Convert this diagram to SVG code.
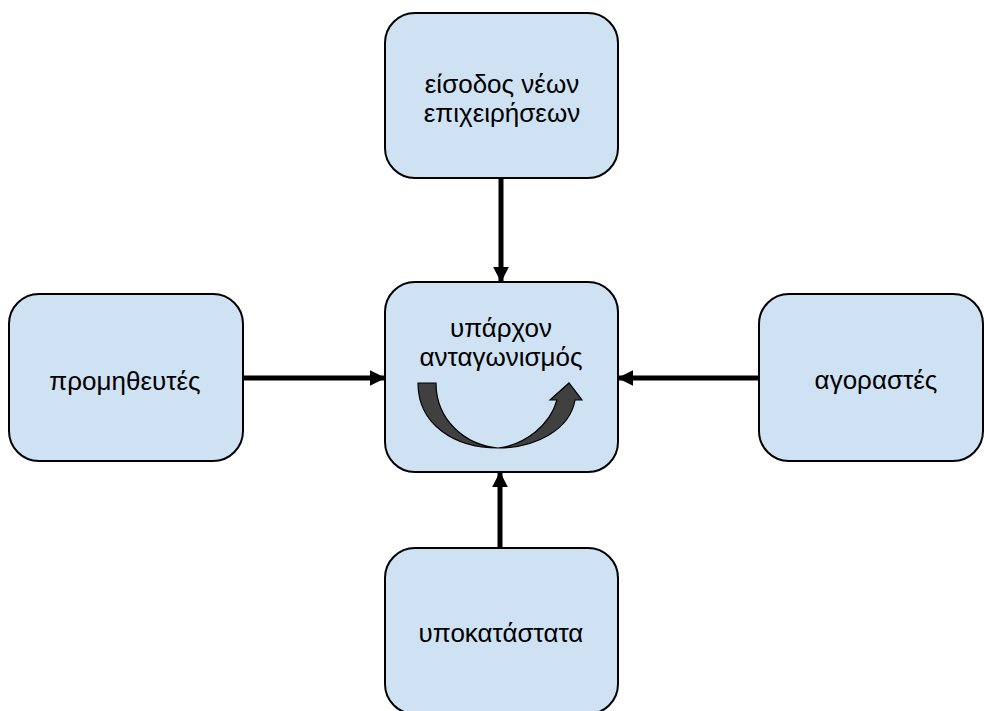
<svg xmlns="http://www.w3.org/2000/svg" width="984" height="711" viewBox="0 0 984 711">
<defs>
<style>
.box{fill:#cfe2f3;stroke:#000;stroke-width:2}
.t{font-family:"Liberation Sans",Arial,sans-serif;font-size:26px;fill:#000;text-anchor:middle}
.c{stroke:#000;stroke-width:5;fill:none}
</style>
<marker id="ah" viewBox="0 0 10 10" refX="9" refY="5" markerWidth="3.2" markerHeight="3.2" orient="auto" markerUnits="strokeWidth">
<path d="M0,0 L10,5 L0,10 Z" fill="#000"/>
</marker>
</defs>
<rect width="984" height="711" fill="#fff"/>
<g id="connectors">
<line class="c" x1="501" y1="178" x2="501" y2="281" marker-end="url(#ah)"/>
<line class="c" x1="243" y1="378" x2="384" y2="378" marker-end="url(#ah)"/>
<line class="c" x1="759" y1="378" x2="619" y2="378" marker-end="url(#ah)"/>
<line class="c" x1="500" y1="557" x2="500" y2="473" marker-end="url(#ah)"/>
</g>
<g id="node-top">
<rect class="box" x="385" y="13" width="233" height="165" rx="30"/>
<text class="t" x="502" y="93">είσοδος νέων</text>
<text class="t" x="502" y="122">επιχειρήσεων</text>
</g>
<g id="node-center">
<rect class="box" x="385" y="282" width="233" height="190" rx="30"/>
<text class="t" x="501" y="337">υπάρχον</text>
<text class="t" x="501" y="366">ανταγωνισμός</text>
<path d="M418 383 C418 425 455 448 498 448 C535 448 570 430 575 400 L582 400 L569 383 L550 400 L557 400 C550 425 525 445 498 448 C465 445 436 420 436 383 Z" fill="#404040" stroke="#000" stroke-width="1.2"/>
</g>
<g id="node-left">
<rect class="box" x="9" y="294" width="234" height="167" rx="30"/>
<text class="t" x="125" y="390">προμηθευτές</text>
</g>
<g id="node-right">
<rect class="box" x="759" y="294" width="224" height="167" rx="30"/>
<text class="t" x="876" y="389">αγοραστές</text>
</g>
<g id="node-bottom">
<rect class="box" x="385" y="548" width="233" height="166" rx="30"/>
<text class="t" x="501" y="642">υποκατάστατα</text>
</g>
</svg>
